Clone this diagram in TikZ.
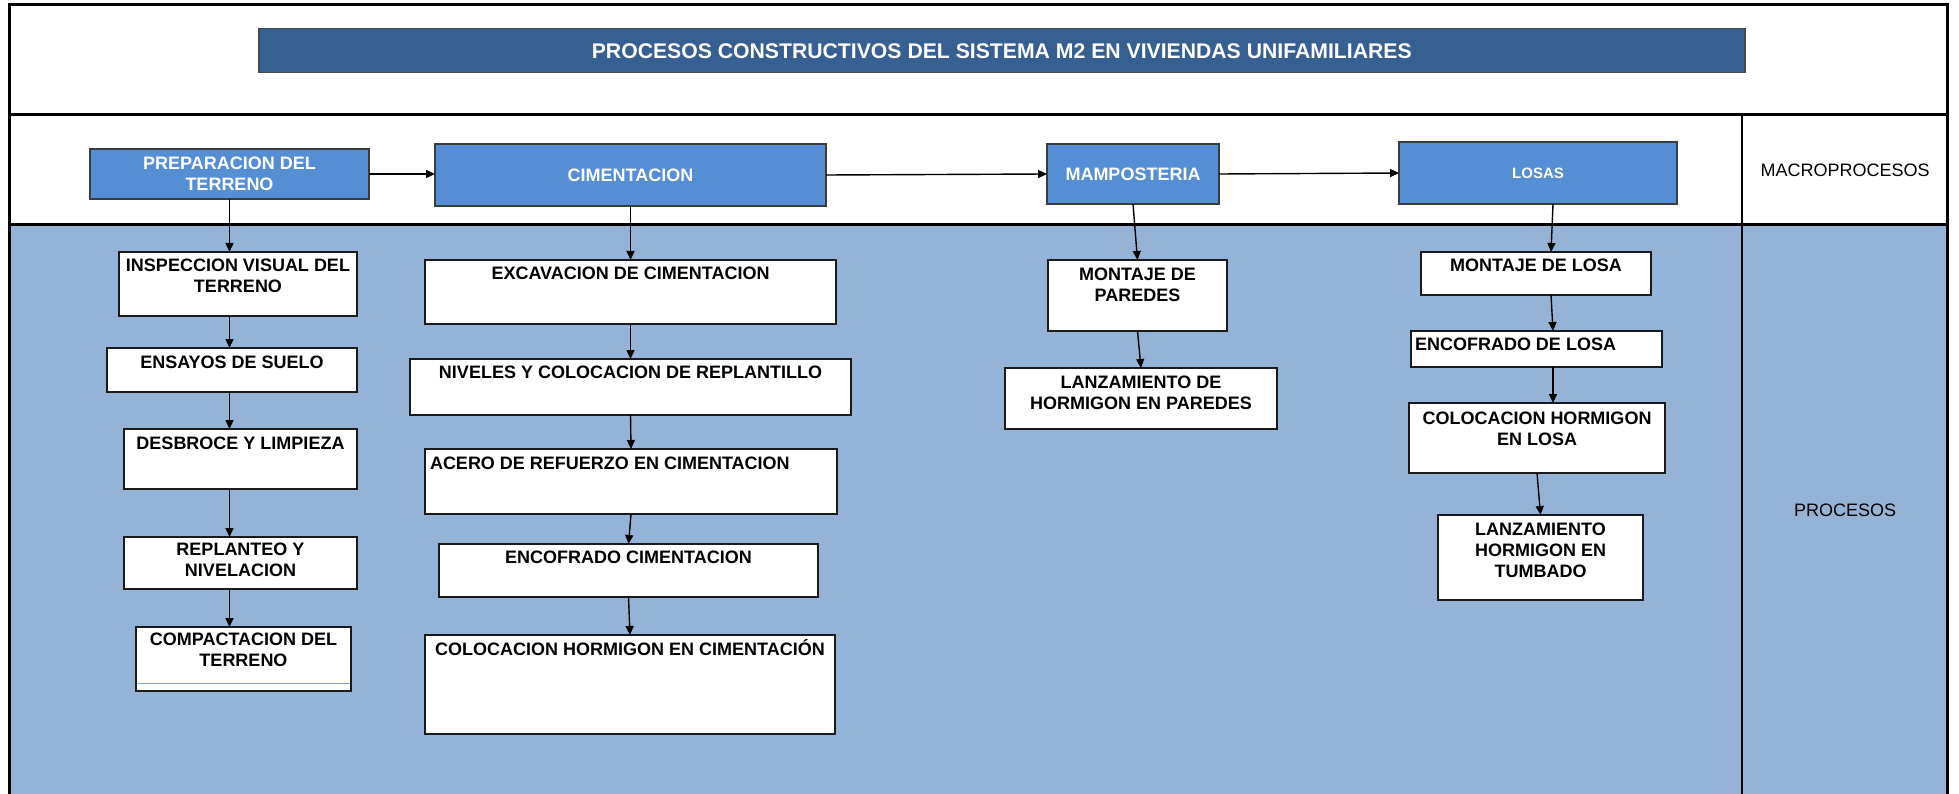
\documentclass[tikz,border=0pt]{standalone}
\usepackage{fontspec}
\setmainfont{Liberation Sans}
\usetikzlibrary{arrows.meta}
\definecolor{titleblue}{HTML}{376092}
\definecolor{macroblue}{HTML}{558ED5}
\definecolor{areablue}{HTML}{95B3D7}
\definecolor{boxline}{HTML}{1A1A1A}
\definecolor{thinblue}{HTML}{7FA6D6}
\newcommand\pbx[8]{%
  \pgfmathsetmacro\bxw{#4-#2}\pgfmathsetmacro\bxh{#5-#3}%
  \node[procbox] (#1) at (#2,#3) {\parbox[c][\bxh pt][t]{\bxw pt}{\vspace*{#6pt}#7#8\par}};}
\newcommand\mbx[7]{%
  \pgfmathsetmacro\bxw{#4-#2}\pgfmathsetmacro\bxh{#5-#3}%
  \node[macrobox, minimum width=\bxw pt, minimum height=\bxh pt, #6] (#1) at (#2,#3) {#7};}
\begin{document}
\begin{tikzpicture}[x=1pt, y=-1pt,
  procbox/.style={draw=boxline, line width=1.6pt, fill=white, anchor=north west, inner sep=0pt, outer sep=0pt,
    font=\fontsize{18}{21}\selectfont\bfseries},
  macrobox/.style={draw=boxline!85, line width=1.6pt, fill=macroblue, anchor=north west, inner sep=0pt, outer sep=0pt,
    text=white, align=center, font=\fontsize{18}{21}\selectfont\bfseries},
  arr/.style={line width=1.4pt, -{Triangle[length=9pt,width=8pt]}},
  frame/.style={line width=3pt, black}
]
\useasboundingbox (0,0) rectangle (1959,794);
% background areas
\fill[white] (0,0) rectangle (1959,794);
\fill[areablue] (9,225) rectangle (1947,794);
\draw[frame] (9,800) -- (9,5) -- (1947,5) -- (1947,800);
\draw[frame] (9,115) -- (1947,115);
\draw[frame] (9,225) -- (1947,225);
\draw[line width=2.2pt] (1742,115) -- (1742,800);
% title
\node[draw=boxline!80, line width=1.5pt, fill=titleblue, anchor=north west, inner sep=0pt,
  minimum width=1486pt, minimum height=44pt, text=white, font=\fontsize{21.2}{24}\selectfont\bfseries]
  (title) at (258,28) {PROCESOS CONSTRUCTIVOS DEL SISTEMA M2 EN VIVIENDAS UNIFAMILIARES};
% side labels
\node[font=\fontsize{18}{21}\selectfont] (lmacro) at (1845,170) {MACROPROCESOS};
\node[font=\fontsize{18}{21}\selectfont] (lproc) at (1845,510) {PROCESOS};
% macro boxes
\mbx{prep}{90}{149}{369}{199}{}{PREPARACION DEL\\TERRENO}
\mbx{cim}{435}{144}{826}{206}{}{CIMENTACION}
\mbx{mamp}{1047}{144}{1219}{204}{}{MAMPOSTERIA}
\mbx{losas}{1399}{142}{1677}{204}{font=\fontsize{15}{18}\selectfont\bfseries}{LOSAS}
% process boxes column 1
\pbx{insp}{119}{252}{357}{316}{7}{\centering}{INSPECCION VISUAL DEL\\TERRENO}
\pbx{ens}{107}{348}{357}{392}{8}{\centering}{ENSAYOS DE SUELO}
\pbx{desb}{124}{429}{357}{489}{8}{\centering}{DESBROCE Y LIMPIEZA}
\pbx{repl}{124}{537}{357}{589}{6}{\centering}{REPLANTEO Y\\NIVELACION}
\pbx{comp}{136}{627}{351}{691}{6}{\centering}{COMPACTACION DEL\\TERRENO}
\draw[thinblue, line width=1pt] (137,683) -- (350,683);
% column 2
\pbx{exc}{425}{260}{836}{324}{7}{\centering}{EXCAVACION DE CIMENTACION}
\pbx{niv}{410}{359}{851}{415}{7}{\centering}{NIVELES Y COLOCACION DE REPLANTILLO}
\pbx{ace}{425}{449}{837}{514}{8}{\raggedright\hspace*{5pt}}{ACERO DE REFUERZO EN CIMENTACION}
\pbx{enc}{439}{544}{818}{597}{7}{\centering}{ENCOFRADO CIMENTACION}
\pbx{colc}{425}{635}{835}{734}{5}{\centering}{COLOCACION HORMIGON EN CIMENTACIÓN}
% column 3
\pbx{mpar}{1048}{260}{1227}{331}{8}{\centering}{MONTAJE DE\\PAREDES}
\pbx{lpar}{1005}{368}{1277}{429}{8}{\centering}{LANZAMIENTO DE\\HORMIGON EN PAREDES}
% column 4
\pbx{mlos}{1421}{252}{1651}{295}{7}{\centering}{MONTAJE DE LOSA}
\pbx{elos}{1411}{331}{1662}{367}{7}{\raggedright\hspace*{4pt}}{ENCOFRADO DE LOSA}
\pbx{clos}{1409}{403}{1665}{473}{9}{\centering}{COLOCACION HORMIGON\\EN LOSA}
\pbx{ltum}{1438}{515}{1643}{600}{8}{\centering}{LANZAMIENTO\\HORMIGON EN\\TUMBADO}
% macro arrows
\draw[arr] (prep.east) -- (prep.east -| cim.west);
\draw[arr] (cim.east) -- (mamp.west);
\draw[arr] (mamp.east) -- (losas.west);
% column 1 arrows
\draw[arr] (prep.south) -- (prep.south |- insp.north);
\draw[arr] (insp.south -| prep.south) -- (ens.north -| prep.south);
\draw[arr] (ens.south -| prep.south) -- (desb.north -| prep.south);
\draw[arr] (desb.south -| prep.south) -- (repl.north -| prep.south);
\draw[arr] (repl.south -| prep.south) -- (comp.north -| prep.south);
% column 2 arrows
\draw[arr] (cim.south) -- (exc.north);
\draw[arr] (exc.south) -- (niv.north);
\draw[arr] (niv.south) -- (ace.north);
\draw[arr] (ace.south) -- (enc.north);
\draw[arr] (enc.south) -- (colc.north);
% column 3 arrows
\draw[arr] (mamp.south) -- (mpar.north);
\draw[arr] (mpar.south) -- (lpar.north);
% column 4 arrows
\draw[arr] ([xshift=15pt]losas.south) -- ([xshift=15pt]mlos.north);
\draw[arr] ([xshift=15pt]mlos.south) -- ([xshift=16.5pt]elos.north);
\draw[arr] ([xshift=16.5pt]elos.south) -- ([xshift=16pt]clos.north);
\draw[arr] (clos.south) -- (ltum.north);
\end{tikzpicture}
\end{document}
